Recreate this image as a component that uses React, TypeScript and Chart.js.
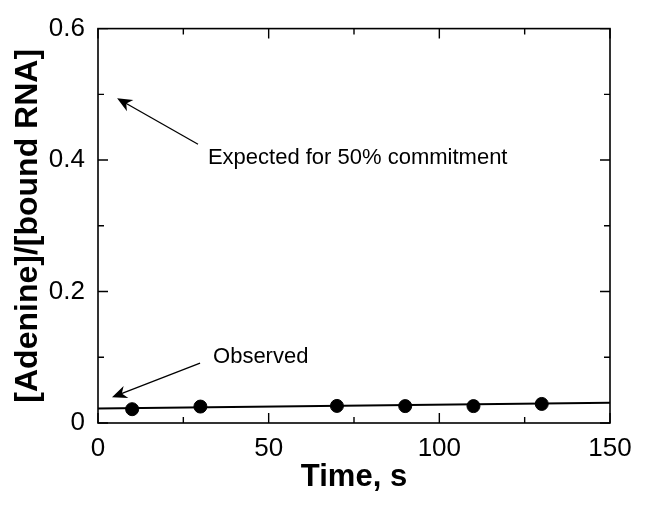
import React, { useEffect, useRef } from "react";
import { Chart, registerables } from "chart.js";

Chart.register(...registerables);

// Observed data
const timeValues = [10, 30, 70, 90, 110, 130];
const ratioValues = [0.021, 0.025, 0.026, 0.0257, 0.0257, 0.029];

// Linear fit line endpoints
const fitTimes = [0, 150];
const fitRatios = [0.0222, 0.0308];

// Annotations (data coordinates)
const annotationTexts = ["Expected for 50% commitment", "Observed"];
const arrowHeadX = [5.6, 4.1];
const arrowHeadY = [0.494, 0.039];
const arrowTailX = [29.3, 29.9];
const arrowTailY = [0.424, 0.091];
const labelX = [32.2, 33.7];
const labelY = [0.403, 0.1];

const xTitle = "Time, s";
const yTitle = "[Adenine]/[bound RNA]";

const FONT = "'Liberation Sans', Arial, Helvetica, sans-serif";

function drawArrow(ctx: CanvasRenderingContext2D, x1: number, y1: number, x2: number, y2: number) {
  const ang = Math.atan2(y2 - y1, x2 - x1);
  const headLen = 15;
  const headW = 6.5;
  ctx.save();
  ctx.strokeStyle = "#000";
  ctx.fillStyle = "#000";
  ctx.lineWidth = 1.3;
  ctx.beginPath();
  ctx.moveTo(x1, y1);
  ctx.lineTo(x2 - Math.cos(ang) * 8, y2 - Math.sin(ang) * 8);
  ctx.stroke();
  ctx.translate(x2, y2);
  ctx.rotate(ang);
  ctx.beginPath();
  ctx.moveTo(0, 0);
  ctx.lineTo(-headLen, -headW);
  ctx.lineTo(-headLen * 0.7, 0);
  ctx.lineTo(-headLen, headW);
  ctx.closePath();
  ctx.fill();
  ctx.restore();
}

const framePlugin = {
  id: "frameTicks",
  afterDraw(chart: any) {
    const ctx = chart.ctx as CanvasRenderingContext2D;
    const { left, right, top, bottom } = chart.chartArea;
    const xs = chart.scales.x;
    const ys = chart.scales.y;
    ctx.save();
    ctx.strokeStyle = "#000";
    ctx.lineWidth = 1.6;
    ctx.strokeRect(left, top, right - left, bottom - top);
    ctx.lineWidth = 1.4;
    ctx.beginPath();
    xs.ticks.forEach((t: any) => {
      const v = t.value;
      const major = Math.round(v) % 50 === 0;
      const len = major ? 10 : 6;
      const px = xs.getPixelForValue(v);
      ctx.moveTo(px, bottom);
      ctx.lineTo(px, bottom - len);
      ctx.moveTo(px, top);
      ctx.lineTo(px, top + len);
    });
    ys.ticks.forEach((t: any) => {
      const v = t.value;
      const major = Math.round(v * 10) % 2 === 0;
      const len = major ? 10 : 6;
      const py = ys.getPixelForValue(v);
      ctx.moveTo(left, py);
      ctx.lineTo(left + len, py);
      ctx.moveTo(right, py);
      ctx.lineTo(right - len, py);
    });
    ctx.stroke();

    for (let i = 0; i < annotationTexts.length; i++) {
      const hx = xs.getPixelForValue(arrowHeadX[i]);
      const hy = ys.getPixelForValue(arrowHeadY[i]);
      const tx = xs.getPixelForValue(arrowTailX[i]);
      const ty = ys.getPixelForValue(arrowTailY[i]);
      drawArrow(ctx, tx, ty, hx, hy);
      ctx.fillStyle = "#000";
      ctx.font = `22px ${FONT}`;
      ctx.textAlign = "left";
      ctx.textBaseline = "middle";
      ctx.fillText(annotationTexts[i], xs.getPixelForValue(labelX[i]), ys.getPixelForValue(labelY[i]));
    }
    ctx.restore();
  },
};

export default function App() {
  const canvasRef = useRef<HTMLCanvasElement | null>(null);

  useEffect(() => {
    if (!canvasRef.current) return;
    const chart = new Chart(canvasRef.current, {
      type: "scatter",
      data: {
        datasets: [
          {
            type: "line",
            data: fitTimes.map((x, i) => ({ x, y: fitRatios[i] })),
            borderColor: "#000",
            borderWidth: 2,
            pointRadius: 0,
            fill: false,
          } as any,
          {
            type: "scatter",
            data: timeValues.map((x, i) => ({ x, y: ratioValues[i] })),
            backgroundColor: "#000",
            borderColor: "#000",
            pointRadius: 6.5,
          },
        ],
      },
      options: {
        responsive: false,
        animation: false,
        devicePixelRatio: 1,
        layout: { padding: { top: 27, right: 35, left: 0, bottom: 0 } },
        plugins: { legend: { display: false }, tooltip: { enabled: false } },
        scales: {
          x: {
            type: "linear",
            min: 0,
            max: 150,
            grid: { display: false, drawTicks: false },
            border: { display: false },
            ticks: {
              stepSize: 25,
              padding: 10,
              maxRotation: 0,
              autoSkip: false,
              color: "#000",
              font: { family: FONT, size: 26 },
              callback: (v: any) => (Math.round(v) % 50 === 0 ? String(Math.round(v)) : ""),
            },
            title: {
              display: true,
              text: xTitle,
              color: "#000",
              font: { family: FONT, size: 31, weight: "bold" },
              padding: { top: 0, bottom: 9 },
            },
            afterFit: (s: any) => {
              s.height = 82;
            },
          },
          y: {
            type: "linear",
            min: 0,
            max: 0.6,
            grid: { display: false, drawTicks: false },
            border: { display: false },
            ticks: {
              stepSize: 0.1,
              padding: 13,
              autoSkip: false,
              color: "#000",
              font: { family: FONT, size: 26 },
              callback: (v: any) => {
                const r = Math.round(v * 10);
                if (r % 2 !== 0) return "";
                return r === 0 ? "0" : (r / 10).toString();
              },
            },
            title: {
              display: true,
              text: yTitle,
              color: "#000",
              font: { family: FONT, size: 32, weight: "bold" },
              padding: { top: 9, bottom: 0 },
            },
            afterFit: (s: any) => {
              s.width = 98;
            },
          },
        },
      },
      plugins: [framePlugin],
    });
    return () => chart.destroy();
  }, []);

  return (
    <div style={{ position: "fixed", left: 0, top: 0, width: 645, height: 505, background: "#fff" }}>
      <canvas ref={canvasRef} width={645} height={505} style={{ display: "block" }} />
    </div>
  );
}
